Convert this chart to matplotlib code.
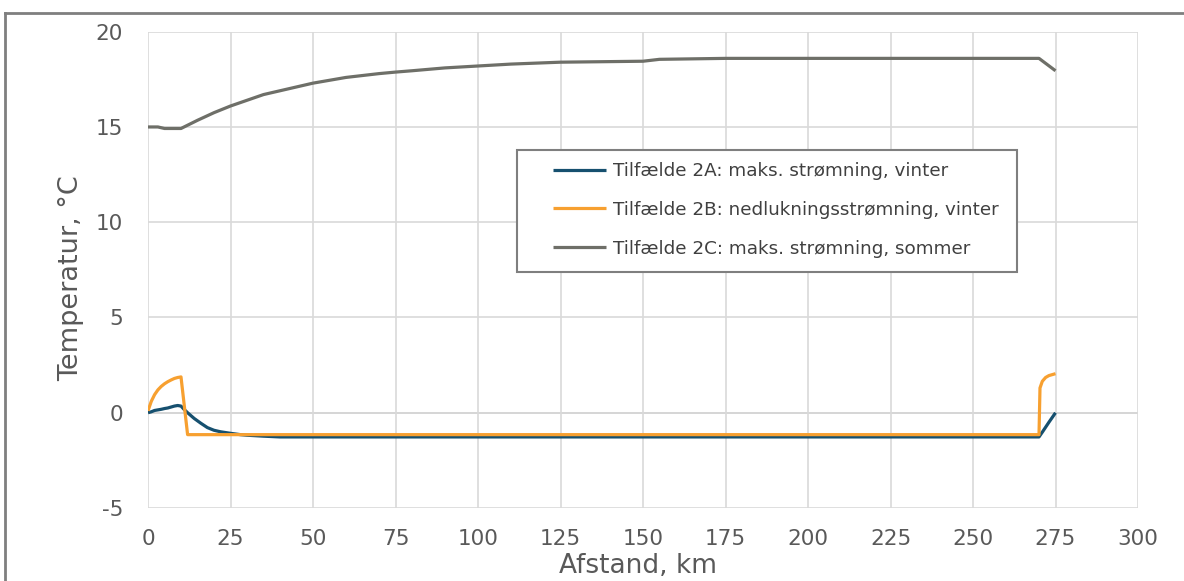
import matplotlib
matplotlib.use("Agg")
import matplotlib.pyplot as plt
from matplotlib.lines import Line2D
from matplotlib.patches import Rectangle

plt.rcParams["axes.unicode_minus"] = False
plt.rcParams["font.family"] = ["DejaVu Sans"]

# Temperature profiles along the pipeline
dist_2a = [0, 1, 2, 3, 4, 5, 6, 7, 8, 9, 10, 10.8, 12, 14, 16, 18, 20, 22, 25,
           28, 30, 35, 40, 270, 271, 272, 273, 274, 275]
temp_2a = [0.0, 0.05, 0.12, 0.15, 0.18, 0.22, 0.25, 0.3, 0.35, 0.38, 0.35, 0.2,
           0.0, -0.3, -0.55, -0.78, -0.92, -1.0, -1.08, -1.15, -1.18, -1.23,
           -1.27, -1.27, -1.02, -0.76, -0.5, -0.25, 0.0]

dist_2b = [0, 1, 2, 3, 4, 5, 6, 7, 8, 9, 10, 12, 270, 270.3, 271, 272, 273,
           274, 275]
temp_2b = [0.1, 0.6, 0.95, 1.2, 1.38, 1.52, 1.63, 1.72, 1.8, 1.85, 1.88, -1.15,
           -1.15, 1.3, 1.65, 1.85, 1.95, 2.0, 2.05]

dist_2c = [0, 3, 5, 10, 15, 20, 25, 30, 35, 40, 45, 50, 55, 60, 65, 70, 75, 80,
           90, 100, 110, 125, 150, 155, 175, 270, 275]
temp_2c = [15.0, 15.0, 14.92, 14.92, 15.35, 15.75, 16.1, 16.4, 16.7, 16.9, 17.1,
           17.3, 17.45, 17.6, 17.7, 17.8, 17.88, 17.95, 18.1, 18.2, 18.3, 18.4,
           18.45, 18.55, 18.6, 18.6, 17.95]

labels = ["Tilfælde 2A: maks. strømning, vinter",
          "Tilfælde 2B: nedlukningsstrømning, vinter",
          "Tilfælde 2C: maks. strømning, sommer"]
colors = ["#16506f", "#f7a030", "#6e6f68"]

x_ticks = list(range(0, 301, 25))
y_ticks = [-5, 0, 5, 10, 15, 20]

W, H = 1184, 581
fig = plt.figure(figsize=(W / 100, H / 100), dpi=100)
ax = fig.add_axes([148 / W, 1 - 508 / H, (1138 - 148) / W, (508 - 31.7) / H])

for d, t, c, lab in zip([dist_2a, dist_2b, dist_2c], [temp_2a, temp_2b, temp_2c],
                        colors, labels):
    ax.plot(d, t, color=c, lw=2.3, label=lab, solid_joinstyle="round",
            solid_capstyle="butt", zorder=3)

ax.set_xlim(0, 300)
ax.set_ylim(-5, 20)
ax.set_xticks(x_ticks)
ax.set_yticks(y_ticks)
ax.grid(True, color="#d9d9d9", lw=1.2, zorder=0)
ax.axhline(0, color="#bfbfbf", lw=1.2, zorder=1)
for s in ax.spines.values():
    s.set_visible(False)
ax.tick_params(length=0, labelsize=15.5, labelcolor="#595959")
ax.tick_params(axis="x", pad=15)
ax.tick_params(axis="y", pad=18)

ax.set_xlabel("Afstand, km", fontsize=19, color="#595959")
ax.set_ylabel("Temperatur, °C", fontsize=19.5, color="#595959")
ax.xaxis.set_label_coords((638 - 148) / 990, (508 - 553) / 476.3)
ax.yaxis.set_label_coords((84 - 148) / 990, (508 - 278) / 476.3)

# Legend box drawn separately so its padding can be set freely
ax.add_patch(Rectangle((517 / W, 1 - 272 / H), 500 / W, 122 / H,
                       transform=fig.transFigure, facecolor="white",
                       edgecolor="#7f7f7f", lw=1.5, zorder=4, clip_on=False))
leg = ax.legend(loc="upper left", bbox_to_anchor=(553 / W, 1 - 162 / H),
                bbox_transform=fig.transFigure, fontsize=13.2, frameon=False,
                handlelength=2.9, handletextpad=0.35, labelspacing=1.14,
                borderpad=0, borderaxespad=0)
leg.set_zorder(5)
for txt in leg.get_texts():
    txt.set_color("#404040")

# Outer frame around the figure
fig.add_artist(Line2D([5 / W, 1], [1 - 13 / H, 1 - 13 / H], color="#7f7f7f", lw=2,
                      transform=fig.transFigure))
fig.add_artist(Line2D([5 / W, 5 / W], [0, 1 - 13 / H], color="#7f7f7f", lw=2,
                      transform=fig.transFigure))

fig.savefig("out.png", dpi=100)
